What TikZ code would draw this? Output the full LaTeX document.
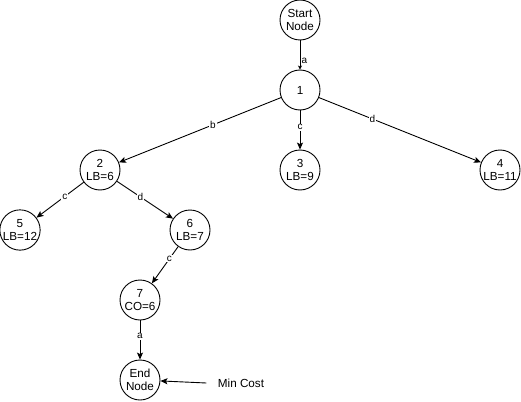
\documentclass[tikz,border=0pt]{standalone}
\usepackage{fontspec}
\setmainfont{Liberation Sans}
\usetikzlibrary{arrows.meta}
\begin{document}
\begin{tikzpicture}[x=1pt,y=-1pt,
  state/.style={circle,draw,line width=0.9pt,minimum size=40pt,inner sep=0pt,align=center,font=\fontsize{11.7}{13.5}\selectfont},
  link/.style={draw,line width=0.9pt,-{Stealth[length=7pt,width=6pt,inset=1.5pt]}},
  lbl/.style={fill=white,inner sep=0.8pt,font=\fontsize{10}{11}\selectfont}]
\useasboundingbox (0,0) rectangle (521,401);
\node[state] (s) at (300,20) {Start\\Node};
\node[state] (n1) at (300,90) {1};
\node[state] (n2) at (100,170) {2\\LB=6};
\node[state] (n3) at (300,170) {3\\LB=9};
\node[state] (n4) at (500,170) {4\\LB=11};
\node[state] (n5) at (20,230) {5\\LB=12};
\node[state] (n6) at (190,230) {6\\LB=7};
\node[state] (n7) at (140,300) {7\\CO=6};
\node[state] (e) at (140,380) {End\\Node};
\node[font=\fontsize{11.7}{13.5}\selectfont] (mc) at (241,383) {Min Cost};

\draw[link,-{Stealth[length=4pt,width=4pt,inset=1pt]}] (s) -- (n1);
\node[lbl,fill=none] (la) at (304.5,61) {a};
\draw[link] (n1) -- node[lbl,pos=0.42] {b} (n2);
\draw[link] (n1) -- node[lbl,pos=0.43] {c} (n3);
\draw[link] (n1) -- node[lbl,pos=0.33] {d} (n4);
\draw[link] (n2) -- node[lbl,pos=0.4] {c} (n5);
\draw[link] (n2) -- node[lbl,pos=0.42] {d} (n6);
\draw[link] (n6) -- node[lbl,pos=0.33] {c} (n7);
\draw[link] (n7) -- node[lbl,pos=0.4] {a} (e);
\draw[link] (mc.west) ++(-8,0) coordinate (mcs) (mcs) -- (e);
\end{tikzpicture}
\end{document}
